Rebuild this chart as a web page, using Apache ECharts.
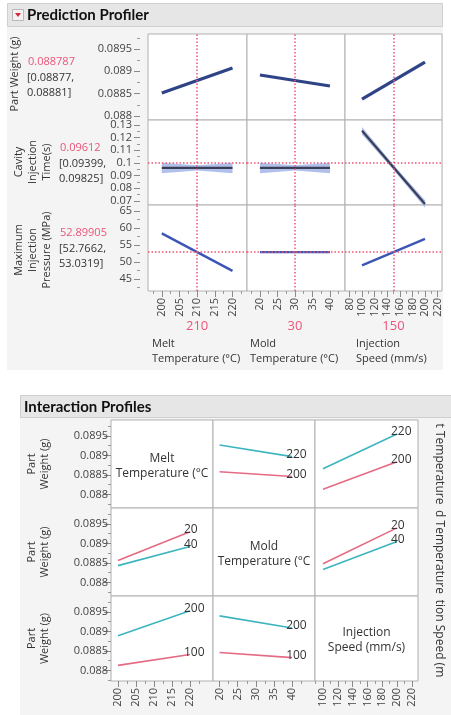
<!DOCTYPE html>
<html><head><meta charset="utf-8">
<script src="https://cdn.jsdelivr.net/npm/echarts@6/dist/echarts.min.js"></script>
<style>html,body{margin:0;padding:0;background:#fff}#c{width:451px;height:715px}</style>
</head><body><div id="c"></div>
<script>
// ---------------- DATA ----------------
const factorNames = ['Melt\nTemperature (°C)', 'Mold\nTemperature (°C)', 'Injection\nSpeed (mm/s)'];
const diagNames = ['Melt\nTemperature (°C', 'Mold\nTemperature (°C', 'Injection\nSpeed (mm/s)'];
const sideNames = ['t Temperature', 'd Temperature', 'tion Speed (m'];
const factorCurrent = [210, 30, 150];
const factorLow = [200, 20, 100];
const factorHigh = [220, 40, 200];

const responseNames = ['Part Weight (g)', 'Cavity\nInjection\nTime(s)', 'Maximum\nInjection\nPressure (MPa)'];
const responsePredText = ['0.088787', '0.09612', '52.89905'];
const responseCIText = ['[0.08877,\n0.08881]', '[0.09399,\n0.09825]', '[52.7662,\n53.0319]'];
const responseValue = [0.088787, 0.09612, 52.89905];

// prediction profiler traces: [value at factor low, value at factor high]
const weightVsMelt = [0.088515, 0.089075];
const weightVsMold = [0.088918, 0.088672];
const weightVsSpeed = [0.08838, 0.089209];
const timeVsMelt = [0.0961, 0.0961];
const timeVsMold = [0.0961, 0.0961];
const timeVsSpeed = [0.1255, 0.0676];
const pressureVsMelt = [58.4, 47.4];
const pressureVsMold = [52.9, 52.9];
const pressureVsSpeed = [49.0, 56.8];
// confidence half-widths of injection time at low / current / high
const timeBandMelt = [0.0042, 0.0021, 0.0042];
const timeBandMold = [0.0042, 0.0021, 0.0042];
const timeBandSpeed = [0.0030, 0.0021, 0.0030];

// interaction profiles (part weight), [at x-factor low, at x-factor high]
const ixMelt220VsMold = [0.08927, 0.08897];
const ixMelt200VsMold = [0.08858, 0.08846];
const ixMelt220VsSpeed = [0.08866, 0.08955];
const ixMelt200VsSpeed = [0.08813, 0.08884];
const ixMold20VsMelt = [0.08856, 0.08930];
const ixMold40VsMelt = [0.08843, 0.08892];
const ixMold20VsSpeed = [0.08848, 0.08940];
const ixMold40VsSpeed = [0.08833, 0.08905];
const ixSpeed200VsMelt = [0.08889, 0.08953];
const ixSpeed100VsMelt = [0.08813, 0.08841];
const ixSpeed200VsMold = [0.08940, 0.08909];
const ixSpeed100VsMold = [0.08846, 0.08833];

// tick labels
const meltTicks = [200, 205, 210, 215, 220];
const moldTicks = [20, 25, 30, 35, 40];
const speedTicksTop = [80, 100, 120, 140, 160, 180, 200, 220];
const speedTicksIx = [100, 120, 140, 160, 180, 200, 220];
const weightTicks = [0.088, 0.0885, 0.089, 0.0895];
const timeTicks = [0.07, 0.08, 0.09, 0.1, 0.11, 0.12, 0.13];
const pressureTicks = [45, 50, 55, 60, 65];

// ---------------- LAYOUT ----------------
const topCols = [[148, 99], [247, 98], [345, 97]];
const topRows = [[34, 86], [120, 85], [205, 86]];
const topXRange = [[196.1, 224.1], [16.3, 44.3], [73, 227]];
const topYRange = [[0.087911, 0.089836], [0.06685, 0.13395], [41.47, 66.76]];
const ixCols = [[111, 102], [213, 102], [315, 103]];
const ixRows = [[420, 88], [508, 88], [596, 85]];
const ixXRange = [[198.06, 226.4], [18.2, 46.3], [89.2, 228.4]];
const ixYRange = [[0.08765, 0.08991], [0.08765, 0.08991], [0.08773, 0.08991]];

const FF = "'Segoe UI','Open Sans',sans-serif";
const RED = '#ec5478';
const CYAN = '#3db5c0';
const PINK = '#e56a84';
const LABEL = '#444';

const chart = echarts.init(document.getElementById('c'));
const grids = [], xAxes = [], yAxes = [], series = [];

function fmt(v) { return String(+(+v).toPrecision(6)); }
function minorsOf(t, min, max) {
  const step = t[1] - t[0], out = [];
  for (let i = -1; i < t.length; i++) {
    const v = i < 0 ? t[0] - step / 2 : t[i] + step / 2;
    if (v > min && v < max) out.push(v);
  }
  return out;
}
function addGrid(l, t, w, h) {
  grids.push({ left: l, top: t, width: w, height: h, show: true, backgroundColor: '#fff',
    borderColor: '#b0b0b0', borderWidth: 1, containLabel: false, outerBoundsMode: 'none' });
  return grids.length - 1;
}
function addAxis(list, dim, gi, range, ticks, show, tickLen, margin, offset) {
  const base = { type: 'value', gridIndex: gi, min: range[0], max: range[1], offset: offset || 0,
    position: dim === 'x' ? 'bottom' : 'left', axisLine: { show: false }, splitLine: { show: false } };
  list.push(Object.assign({}, base, {
    axisTick: { show: show, customValues: ticks, length: tickLen, lineStyle: { color: '#8a8a8a' } },
    axisLabel: { show: show, customValues: ticks, formatter: fmt, rotate: dim === 'x' ? 90 : 0,
      margin: margin, fontFamily: FF, fontSize: 11, color: LABEL }
  }));
  const idx = list.length - 1;
  if (show) {
    list.push(Object.assign({}, base, {
      axisTick: { show: true, customValues: minorsOf(ticks, range[0], range[1]), length: 3, lineStyle: { color: '#9a9a9a' } },
      axisLabel: { show: false }
    }));
  }
  return idx;
}

// ---------- Prediction profiler ----------
const topProfiles = [
  [weightVsMelt, weightVsMold, weightVsSpeed],
  [timeVsMelt, timeVsMold, timeVsSpeed],
  [pressureVsMelt, pressureVsMold, pressureVsSpeed]
];
const timeBands = [timeBandMelt, timeBandMold, timeBandSpeed];
const topXTicks = [meltTicks, moldTicks, speedTicksTop];
const topYTicks = [weightTicks, timeTicks, pressureTicks];
const lineStyles = [
  { color: '#2f4387', width: 3.2 },
  { color: '#3a3f58', width: 2.2 },
  { color: '#3b56b5', width: 2.4 }
];
function bandRender(params, api) {
  const pts = [
    api.coord([api.value(0), api.value(2)]),
    api.coord([api.value(3), api.value(5)]),
    api.coord([api.value(3), api.value(4)]),
    api.coord([api.value(0), api.value(1)])
  ];
  return { type: 'polygon', shape: { points: pts }, style: { fill: '#a3b5e6', opacity: 0.85 } };
}
const topXIdx = [];
for (let r = 0; r < 3; r++) {
  for (let c = 0; c < 3; c++) {
    const gi = addGrid(topCols[c][0], topRows[r][0], topCols[c][1], topRows[r][1]);
    const xi = addAxis(xAxes, 'x', gi, topXRange[c], topXTicks[c], r === 2, 6, 7, 0);
    const yi = addAxis(yAxes, 'y', gi, topYRange[r], topYTicks[r], c === 0, 6, 8, 8);
    if (r === 2) topXIdx[c] = xi;
    const lo = factorLow[c], hi = factorHigh[c], cur = factorCurrent[c];
    const v = topProfiles[r][c];
    if (r === 1) {
      const b = timeBands[c];
      const xs = [lo, (lo + hi) / 2, hi];
      const centre = [v[0], (v[0] + v[1]) / 2, v[1]];
      const segs = [];
      for (let i = 0; i < 2; i++) {
        segs.push([xs[i], centre[i] - b[i], centre[i] + b[i], xs[i + 1], centre[i + 1] - b[i + 1], centre[i + 1] + b[i + 1]]);
      }
      series.push({ type: 'custom', xAxisIndex: xi, yAxisIndex: yi, silent: true, z: 2,
        encode: { x: [0, 3], y: [1, 2, 4, 5] }, renderItem: bandRender, data: segs });
    }
    series.push({
      type: 'line', xAxisIndex: xi, yAxisIndex: yi, symbol: 'none', silent: true,
      lineStyle: lineStyles[r], data: [[lo, v[0]], [hi, v[1]]], z: 3,
      markLine: { silent: true, symbol: 'none', label: { show: false },
        lineStyle: { color: RED, type: [1.5, 2], width: 1.5 },
        data: [{ xAxis: cur }, { yAxis: responseValue[r] }] }
    });
  }
}

// ---------- Interaction profiles ----------
const interaction = [
  [null, [['220', ixMelt220VsMold, CYAN], ['200', ixMelt200VsMold, PINK]], [['220', ixMelt220VsSpeed, CYAN], ['200', ixMelt200VsSpeed, PINK]]],
  [[['20', ixMold20VsMelt, PINK], ['40', ixMold40VsMelt, CYAN]], null, [['20', ixMold20VsSpeed, PINK], ['40', ixMold40VsSpeed, CYAN]]],
  [[['200', ixSpeed200VsMelt, CYAN], ['100', ixSpeed100VsMelt, PINK]], [['200', ixSpeed200VsMold, CYAN], ['100', ixSpeed100VsMold, PINK]], null]
];
const ixXTicks = [meltTicks, moldTicks, speedTicksIx];
for (let r = 0; r < 3; r++) {
  for (let c = 0; c < 3; c++) {
    const gi = addGrid(ixCols[c][0], ixRows[r][0], ixCols[c][1], ixRows[r][1]);
    const xi = addAxis(xAxes, 'x', gi, ixXRange[c], ixXTicks[c], r === 2, 6, 7, 0);
    const yi = addAxis(yAxes, 'y', gi, ixYRange[r], weightTicks, c === 0, 7, 3, 0);
    const cell = interaction[r][c];
    if (!cell) continue;
    cell.forEach(([lvl, vals, col]) => {
      series.push({ type: 'line', xAxisIndex: xi, yAxisIndex: yi, symbol: 'none', silent: true,
        lineStyle: { color: col, width: 1.6 },
        data: [[factorLow[c], vals[0]], [factorHigh[c], vals[1]]],
        endLabel: { show: true, formatter: lvl, color: '#333', fontFamily: FF, fontSize: 12, distance: 0, offset: [-6, -2] }
      });
    });
  }
}

chart.setOption({ animation: false, grid: grids, xAxis: xAxes, yAxis: yAxes, series: series });

// ---------- Static graphics ----------
const g = [];
function T(x, y, text, style, extra) {
  return Object.assign({ type: 'text', x: x, y: y, silent: true,
    style: Object.assign({ text: text, font: '11px ' + FF, fill: '#333', align: 'left', verticalAlign: 'middle' }, style) }, extra || {});
}
// panels
g.push({ type: 'rect', z: -10, shape: { x: 7, y: 27, width: 436, height: 343 }, style: { fill: '#f4f4f4' } });
g.push({ type: 'rect', z: -10, shape: { x: 7.5, y: 3.5, width: 435, height: 23 }, style: { fill: '#e6e6e6', stroke: '#cfcfcf' } });
g.push({ type: 'rect', z: -10, shape: { x: 20, y: 418, width: 431, height: 297 }, style: { fill: '#f4f4f4' } });
g.push({ type: 'rect', z: -10, shape: { x: 20.5, y: 395.5, width: 431, height: 22 }, style: { fill: '#e6e6e6', stroke: '#cfcfcf' } });
// header icon + titles
g.push({ type: 'rect', shape: { x: 12.5, y: 9.5, width: 11, height: 11 }, style: { fill: '#f2f2f2', stroke: '#b8b8b8' } });
g.push({ type: 'polygon', shape: { points: [[15, 13], [21, 13], [18, 17]] }, style: { fill: '#d8283c' } });
g.push(T(27, 15, 'Prediction Profiler', { font: 'bold 15px Lato,' + FF, fill: '#111' }));
g.push(T(24, 407, 'Interaction Profiles', { font: 'bold 15px Lato,' + FF, fill: '#111' }));

// response labels (rotated)
const respPos = [[15, 74], [33, 162], [33, 250]];
responseNames.forEach((n, i) => g.push(T(respPos[i][0], respPos[i][1], n,
  { align: 'center', lineHeight: 14 }, { rotation: Math.PI / 2 })));
const predPos = [[28, 62], [60, 148], [60, 233]];
responsePredText.forEach((t, i) => {
  g.push(T(predPos[i][0], predPos[i][1], t, { fill: RED }));
  g.push(T(predPos[i][0] - 1, predPos[i][1] + 23, responseCIText[i], { lineHeight: 15 }));
});
// factor names + current values
const namePosX = [152, 250, 356];
factorNames.forEach((n, i) => {
  g.push(T(namePosX[i], 351, n, { lineHeight: 15, fill: '#333' }));
  const px = chart.convertToPixel({ xAxisIndex: topXIdx[i] }, factorCurrent[i]);
  g.push(T(px, 326, String(factorCurrent[i]), { fill: RED, align: 'center', font: '13px ' + FF }));
});
// interaction side labels
ixRows.forEach((rw, i) => {
  g.push(T(38, rw[0] + rw[1] / 2, 'Part\nWeight (g)', { align: 'center', lineHeight: 13 }, { rotation: Math.PI / 2 }));
  g.push(T(439, rw[0] + rw[1] / 2, sideNames[i], { align: 'center', font: '12px ' + FF }, { rotation: -Math.PI / 2 }));
  const cx = ixCols[i][0] + ixCols[i][1] / 2;
  g.push(T(cx, rw[0] + rw[1] / 2 + 2, diagNames[i], { align: 'center', lineHeight: 15, font: '12px ' + FF }));
});

chart.setOption({ graphic: { elements: g } });
</script></body></html>
